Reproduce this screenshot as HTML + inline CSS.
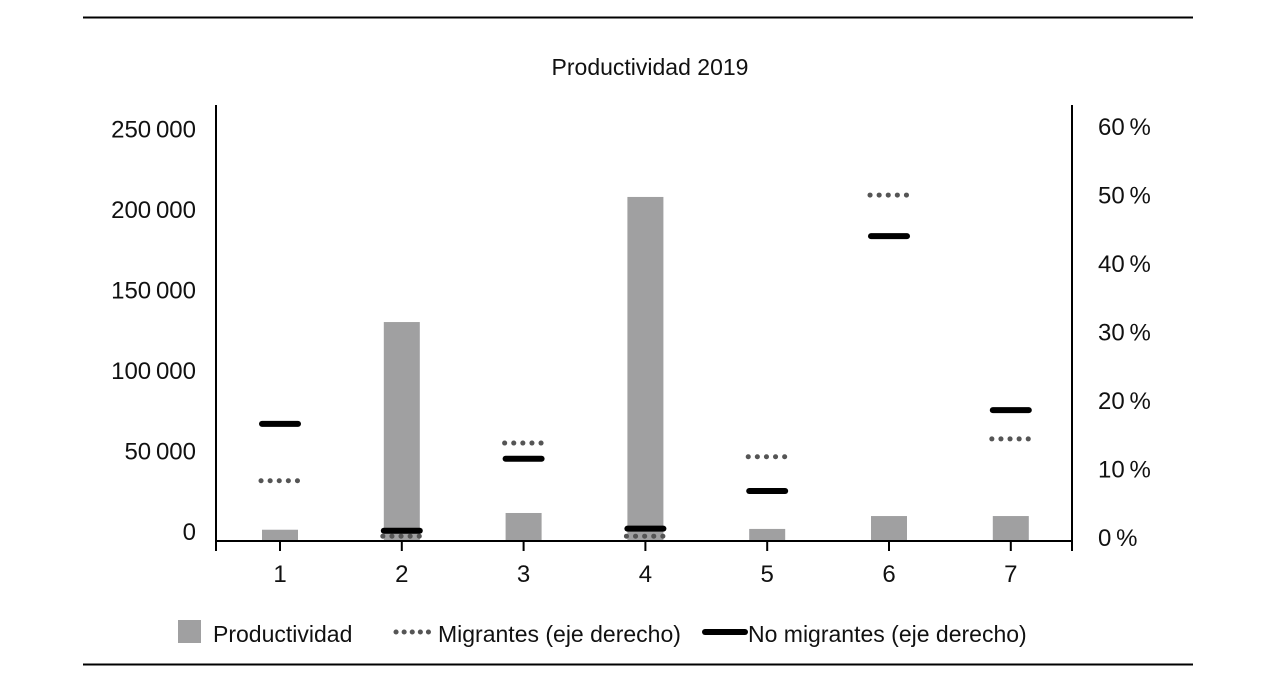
<!DOCTYPE html>
<html><head><meta charset="utf-8"><style>
html,body{margin:0;padding:0;background:#fff;}
svg text{font-family:"Liberation Sans",sans-serif;fill:#111;}
</style></head><body>
<svg id="c" width="1262" height="679" viewBox="0 0 1262 679" xmlns="http://www.w3.org/2000/svg">
<line x1="83" y1="17.5" x2="1193" y2="17.5" stroke="#000" stroke-width="2"/>
<line x1="83" y1="664.5" x2="1193" y2="664.5" stroke="#000" stroke-width="2"/>
<text x="650" y="75" text-anchor="middle" font-size="23">Productividad 2019</text>
<g id="plot"></g>
<g>
<rect x="178" y="620" width="23" height="23" fill="#a0a0a1"/>
<text x="213" y="642" font-size="23">Productividad</text>
<line x1="396" y1="632" x2="432" y2="632" stroke="#555" stroke-width="5" stroke-dasharray="0.1 8" stroke-linecap="round"/>
<text x="438" y="642" font-size="23">Migrantes (eje derecho)</text>
<line x1="705" y1="632" x2="745" y2="632" stroke="#000" stroke-width="6" stroke-linecap="round"/>
<text x="748" y="642" font-size="23">No migrantes (eje derecho)</text>
</g>
</svg>
<script>
const categories = ["1","2","3","4","5","6","7"];
const productividad = [7000, 136000, 17400, 213700, 7500, 15500, 15500];
const migrantes = [8.8, 0.7, 14.3, 0.7, 12.3, 50.5, 14.9];
const noMigrantes = [17.1, 1.5, 12.0, 1.8, 7.3, 44.5, 19.1];
const leftTicks = [0, 50000, 100000, 150000, 200000, 250000];
const leftTickLabels = ["0","50\u2009000","100\u2009000","150\u2009000","200\u2009000","250\u2009000"];
const rightTicks = [0, 10, 20, 30, 40, 50, 60];
const rightTickLabels = ["0\u2009%","10\u2009%","20\u2009%","30\u2009%","40\u2009%","50\u2009%","60\u2009%"];

const NS = "http://www.w3.org/2000/svg";
const g = document.getElementById("plot");
const X0 = 216, X1 = 1072, Y0 = 541;
const yL = v => Y0 - v / 50000 * 80.5;
const yR = v => Y0 - v * 6.85;
const xC = i => 280 + i * 121.8;
function mk(tag, attrs){const e=document.createElementNS(NS,tag);for(const k in attrs)e.setAttribute(k,attrs[k]);g.appendChild(e);return e;}

categories.forEach((c,i)=>{
  const b = mk("rect",{x:xC(i)-18,y:yL(productividad[i]),width:36,height:Y0-yL(productividad[i]),fill:"#a0a0a1"});
  
  
});
categories.forEach((c,i)=>{
  const m = mk("line",{x1:xC(i)-19,x2:xC(i)+21,y1:yR(migrantes[i]),y2:yR(migrantes[i]),stroke:"#555","stroke-width":5,"stroke-dasharray":"0.1 9","stroke-linecap":"round"});
  
  
  const n = mk("line",{x1:xC(i)-18,x2:xC(i)+18,y1:yR(noMigrantes[i]),y2:yR(noMigrantes[i]),stroke:"#000","stroke-width":6,"stroke-linecap":"round"});
  
  
});
const ax = mk("line",{x1:X0,x2:X1,y1:Y0,y2:Y0,stroke:"#000","stroke-width":2});


const la = mk("line",{x1:X0,x2:X0,y1:105,y2:551,stroke:"#000","stroke-width":2});


const ra = mk("line",{x1:X1,x2:X1,y1:105,y2:551,stroke:"#000","stroke-width":2});


categories.forEach((c,i)=>{
  const t = mk("line",{x1:xC(i),x2:xC(i),y1:Y0,y2:Y0+10,stroke:"#000","stroke-width":2});
  
  
  const l = mk("text",{x:xC(i),y:582,"text-anchor":"middle","font-size":24});
  l.textContent = c;
  
  
});
leftTicks.forEach((v,i)=>{
  const l = mk("text",{x:196,y:yL(v)-1,"text-anchor":"end","font-size":24});
  l.textContent = leftTickLabels[i];
  
  
});
rightTicks.forEach((v,i)=>{
  const l = mk("text",{x:1098,y:yR(v)+5,"font-size":24});
  l.textContent = rightTickLabels[i];
  
  
});
</script>
</body></html>
